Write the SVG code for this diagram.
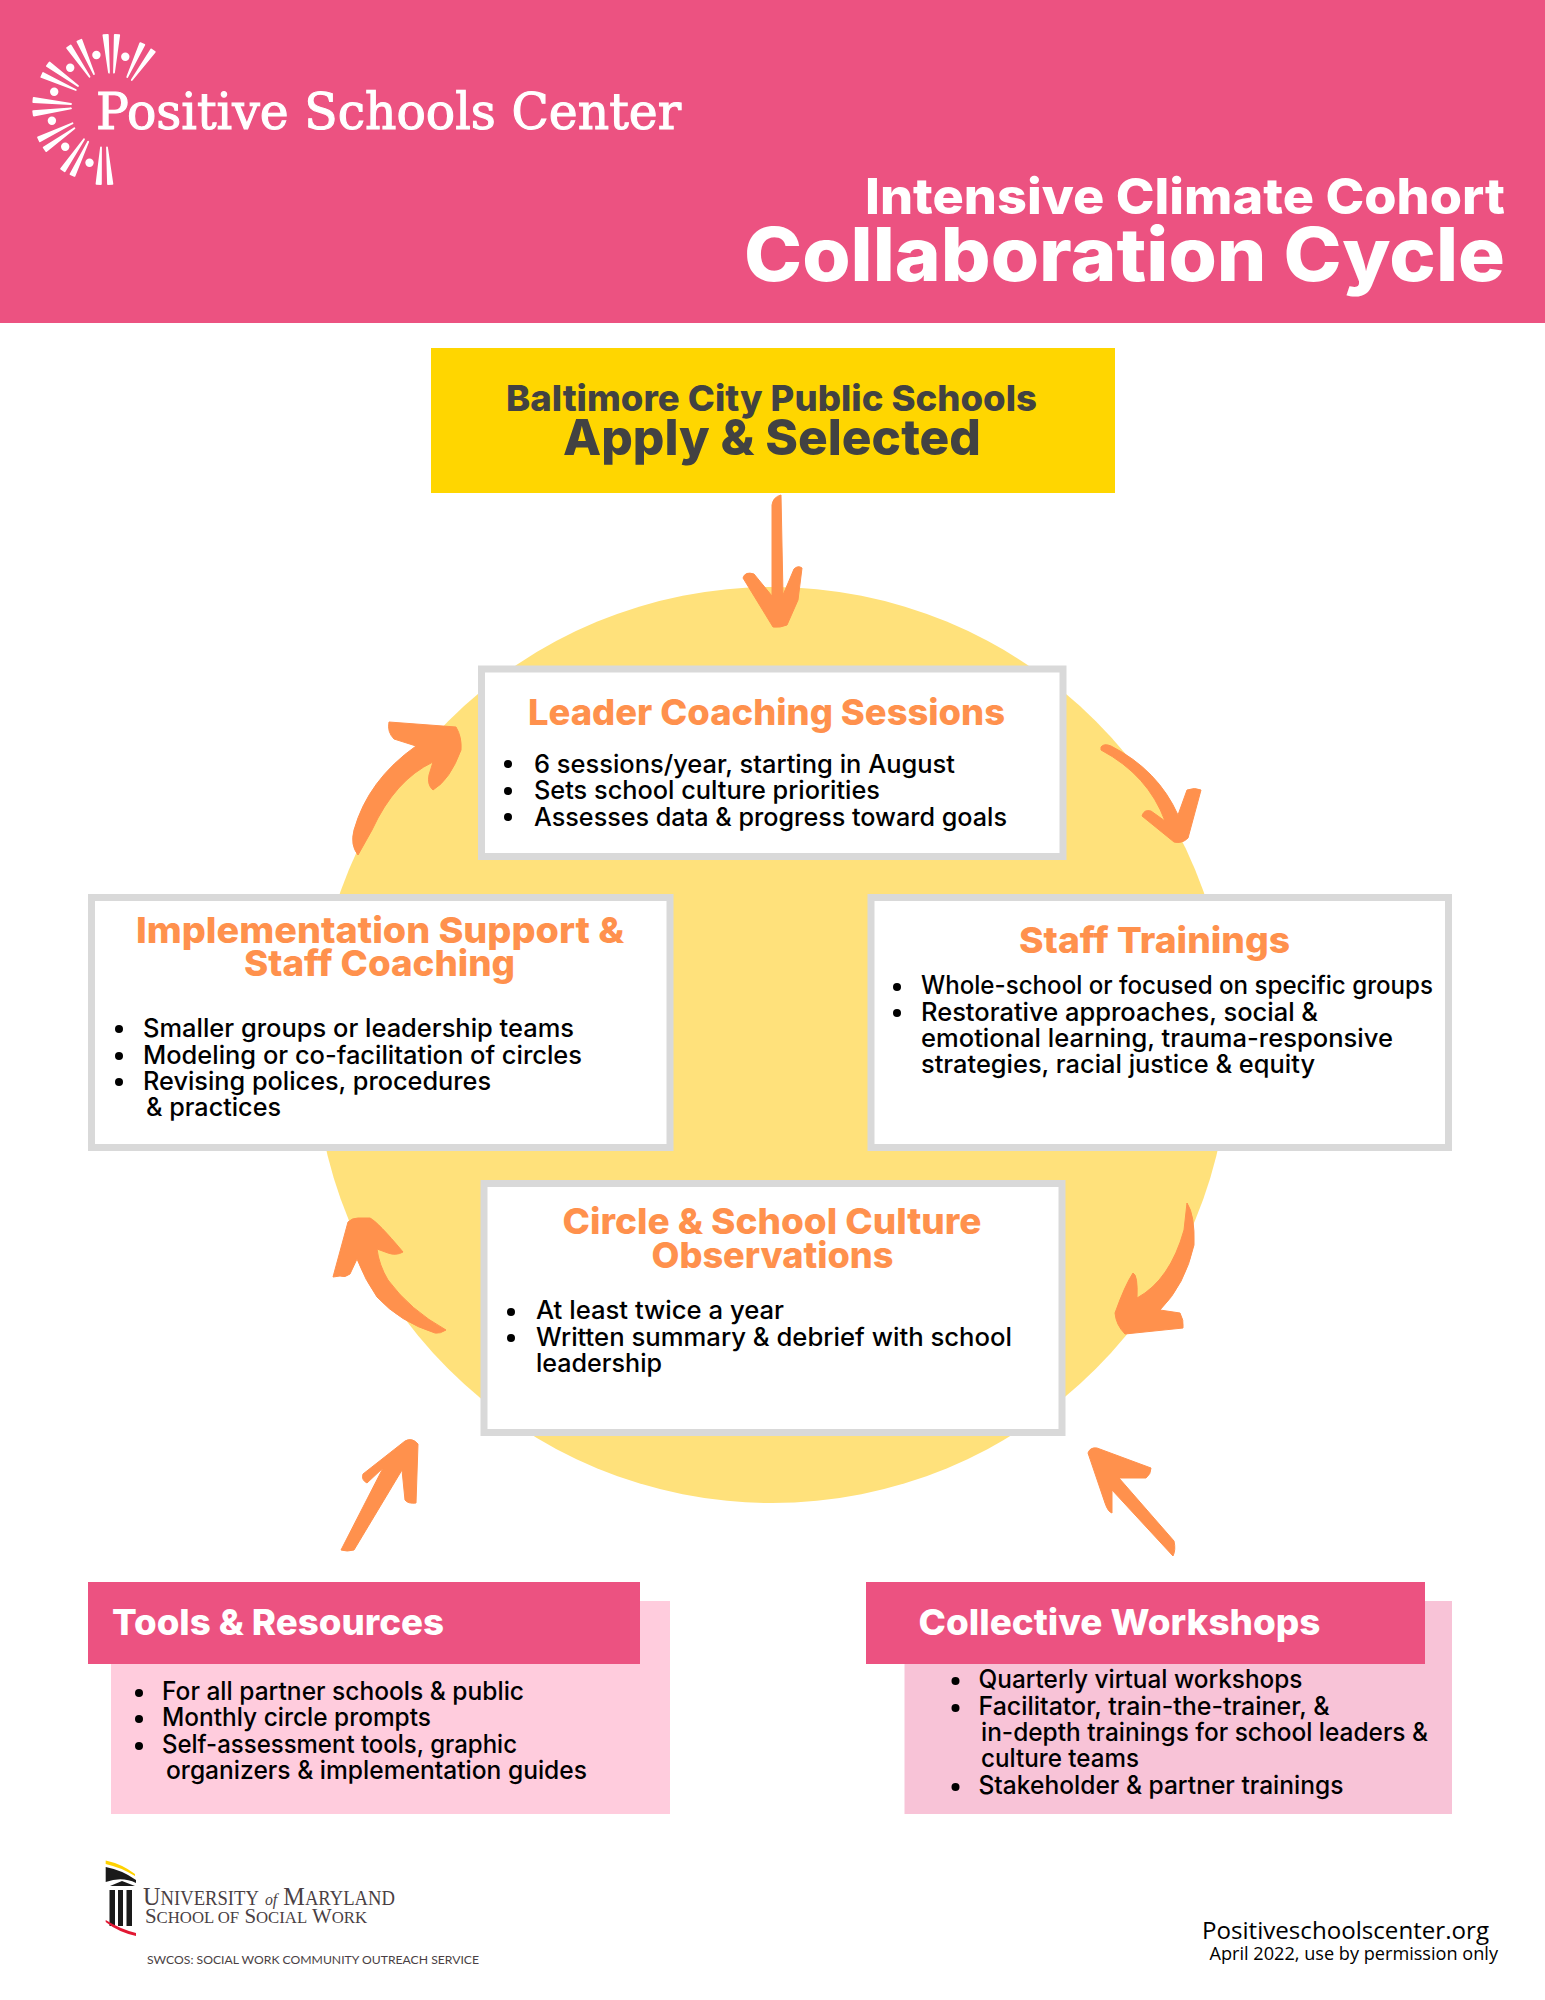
<svg xmlns="http://www.w3.org/2000/svg" width="1545" height="2000" viewBox="0 0 1545 2000">
<style>
.h{font-family:Inter,"Liberation Sans",sans-serif;font-weight:800}
.t{font-size:36px;fill:#FF914D}
.w{fill:#fff}
.d{fill:#424242}
.b{font-family:Inter,"Open Sans",sans-serif;font-weight:500;font-size:25px;fill:#000}
.box{fill:#fff;stroke:#D9D9D9;stroke-width:7}
.dot{fill:#000}
.f{font-family:"Open Sans","Noto Sans",sans-serif;fill:#000}
.ray{fill:#fff;stroke:#fff;stroke-width:1.8;stroke-linejoin:round}
.arrow{fill:#FF914D;stroke:#FF914D;stroke-width:1;stroke-linejoin:round}
.um{font-family:"Liberation Serif",serif;fill:#4A3F44}
</style>
<rect width="1545" height="2000" fill="#fff"/>
<g id="header">
<rect width="1545" height="323" fill="#EC5281"/>
<g id="logo">
<polygon class="ray" points="107.8,34.8 103.4,35.2 109,72.7"/>
<polygon class="ray" points="119.2,35.2 114.8,34.8 114,72.7"/>
<polygon class="ray" points="144.3,44.9 140.3,43.1 127.2,77"/>
<polygon class="ray" points="154.8,52 151.2,49.4 131.8,80"/>
<polygon class="ray" points="81.4,39.8 77.4,41.6 94,74"/>
<polygon class="ray" points="70.7,45.45 67.1,47.95 89.5,76.7"/>
<polygon class="ray" points="49.5,62.5 46.9,66.1 78,86"/>
<polygon class="ray" points="43.1,73 41.3,77 75.8,90"/>
<polygon class="ray" points="33.7,97.8 33.3,102.2 71,104"/>
<polygon class="ray" points="33.2,111.1 33.8,115.5 71,108.3"/>
<polygon class="ray" points="39.95,141.3 38.05,137.3 72.5,123.3"/>
<polygon class="ray" points="46.3,151.1 43.7,147.5 74.4,128.3"/>
<polygon class="ray" points="64.7,171.25 61.1,168.75 84,139.3"/>
<polygon class="ray" points="74.5,175.9 70.5,174.1 88.2,141.7"/>
<polygon class="ray" points="100.9,184.1 96.5,183.9 101,147.3"/>
<polygon class="ray" points="112.4,183.8 108,184.2 107,147.3"/>
<g fill="#fff"><circle cx="96.4" cy="55" r="4.2"/><circle cx="125.3" cy="56.7" r="4.2"/><circle cx="70.2" cy="67.7" r="4.2"/><circle cx="54.2" cy="91.7" r="4.2"/><circle cx="51.9" cy="120.7" r="4.2"/><circle cx="65.2" cy="146.7" r="4.2"/><circle cx="89.5" cy="162.7" r="4.2"/></g>
<text x="96" y="129" font-family="'DejaVu Serif',serif" font-size="50" fill="#fff" stroke="#fff" stroke-width="1.1" textLength="585" lengthAdjust="spacingAndGlyphs">Positive Schools Center</text>
</g>
<text class="h w" x="865" y="214" font-size="50" textLength="640" lengthAdjust="spacingAndGlyphs">Intensive Climate Cohort</text>
<text class="h w" x="744" y="281" font-size="74" textLength="761" lengthAdjust="spacingAndGlyphs">Collaboration Cycle</text>
</g>
<circle id="cycle-circle" cx="772" cy="1045" r="458" fill="#FFE17B"/>
<g id="connectors">
<path class="arrow" d="M772 505Q773 497 781 495L783 595L794 569Q798 565 802 568L798 600L787 625Q780 628 773 627L743 578Q745 571 754 574L772 596Z"/>
<path class="arrow" d="M1101 747Q1104 743 1111 746Q1158 770 1178 815L1187 790Q1195 787 1201 790L1188 838Q1182 844 1174 842L1142 816Q1144 809 1151 811L1165 821Q1148 775 1101 750Z"/>
<path class="arrow" d="M358 855Q350 845 354 830Q368 780 416 746L394 739Q387 732 389 722L456 727Q462 737 461 750Q450 780 433 790Q427 785 429 775L433 762Q395 780 372 830Z"/>
<path class="arrow" d="M1187 1203Q1195 1215 1194 1245Q1185 1285 1160 1310L1180 1313Q1184 1320 1183 1328L1125 1334Q1116 1325 1115 1313Q1125 1285 1133 1273Q1138 1275 1137 1298Q1170 1280 1184 1230Z"/>
<path class="arrow" d="M446 1330Q440 1334 435 1333Q400 1322 377 1297Q365 1280 357 1259L350 1274Q345 1278 340 1276L333 1277L348 1222Q352 1218 358 1218L370 1218Q378 1222 403 1252Q396 1256 388 1253L377 1249Q379 1265 388 1280Q410 1310 446 1330Z"/>
<path class="arrow" d="M341 1550L383 1468L367 1483Q361 1480 363 1474L405 1441Q412 1437 418 1444L416 1503Q408 1504 405 1500L402 1470L354 1550Q347 1552 341 1550Z"/>
<path class="arrow" d="M1173 1556Q1176 1550 1174 1541L1119 1478L1146 1478Q1151 1474 1151 1468L1097 1448Q1090 1447 1088 1453L1105 1503Q1108 1512 1112 1513L1112 1490Z"/>
</g>
<g id="apply">
<rect x="431" y="348" width="684" height="145" fill="#FFD600"/>
<text class="h d" x="506" y="411" font-size="36" textLength="531" lengthAdjust="spacingAndGlyphs">Baltimore City Public Schools</text>
<text class="h d" x="563" y="455" font-size="50" textLength="418" lengthAdjust="spacingAndGlyphs">Apply &amp; Selected</text>
</g>
<g id="leader">
<rect class="box" x="481.5" y="669" width="581.5" height="187.5"/>
<text class="h t" x="528" y="725" textLength="477" lengthAdjust="spacingAndGlyphs">Leader Coaching Sessions</text>
<circle class="dot" cx="508" cy="764" r="4"/><circle class="dot" cx="508" cy="791" r="4"/><circle class="dot" cx="508" cy="817" r="4"/>
<text class="b" x="534" y="773" textLength="421" lengthAdjust="spacingAndGlyphs">6 sessions/year, starting in August</text>
<text class="b" x="534" y="799" textLength="346" lengthAdjust="spacingAndGlyphs">Sets school culture priorities</text>
<text class="b" x="534" y="826" textLength="473" lengthAdjust="spacingAndGlyphs">Assesses data &amp; progress toward goals</text>
</g>
<g id="implementation">
<rect class="box" x="91.5" y="897.5" width="578.5" height="250"/>
<text class="h t" x="136" y="943" textLength="488" lengthAdjust="spacingAndGlyphs">Implementation Support &amp;</text>
<text class="h t" x="244" y="976" textLength="271" lengthAdjust="spacingAndGlyphs">Staff Coaching</text>
<circle class="dot" cx="119" cy="1029" r="4"/><circle class="dot" cx="119" cy="1056" r="4"/><circle class="dot" cx="119" cy="1082" r="4"/>
<text class="b" x="143" y="1037" textLength="431" lengthAdjust="spacingAndGlyphs">Smaller groups or leadership teams</text>
<text class="b" x="143" y="1064" textLength="439" lengthAdjust="spacingAndGlyphs">Modeling or co-facilitation of circles</text>
<text class="b" x="143" y="1090" textLength="348" lengthAdjust="spacingAndGlyphs">Revising polices, procedures</text>
<text class="b" x="146" y="1116" textLength="135" lengthAdjust="spacingAndGlyphs">&amp; practices</text>
</g>
<g id="staff">
<rect class="box" x="871" y="897.5" width="577.5" height="250"/>
<text class="h t" x="1019" y="953" textLength="271" lengthAdjust="spacingAndGlyphs">Staff Trainings</text>
<circle class="dot" cx="897" cy="987" r="4"/><circle class="dot" cx="897" cy="1013" r="4"/>
<text class="b" x="921" y="994" textLength="512" lengthAdjust="spacingAndGlyphs">Whole-school or focused on specific groups</text>
<text class="b" x="921" y="1021" textLength="397" lengthAdjust="spacingAndGlyphs">Restorative approaches, social &amp;</text>
<text class="b" x="921" y="1047" textLength="472" lengthAdjust="spacingAndGlyphs">emotional learning, trauma-responsive</text>
<text class="b" x="921" y="1073" textLength="394" lengthAdjust="spacingAndGlyphs">strategies, racial justice &amp; equity</text>
</g>
<g id="observations">
<rect class="box" x="484" y="1183.5" width="578" height="249"/>
<text class="h t" x="562.5" y="1234" textLength="419" lengthAdjust="spacingAndGlyphs">Circle &amp; School Culture</text>
<text class="h t" x="651.5" y="1268" textLength="242" lengthAdjust="spacingAndGlyphs">Observations</text>
<circle class="dot" cx="511" cy="1312" r="4"/><circle class="dot" cx="511" cy="1338" r="4"/>
<text class="b" x="536" y="1319" textLength="248" lengthAdjust="spacingAndGlyphs">At least twice a year</text>
<text class="b" x="536" y="1346" textLength="476" lengthAdjust="spacingAndGlyphs">Written summary &amp; debrief with school</text>
<text class="b" x="536" y="1372" textLength="126" lengthAdjust="spacingAndGlyphs">leadership</text>
</g>
<g id="tools">
<rect x="111" y="1601" width="559" height="213" fill="#FFCCDD"/>
<rect x="88" y="1582" width="552" height="82" fill="#EC5281"/>
<text class="h w" x="112" y="1635" font-size="36" textLength="332" lengthAdjust="spacingAndGlyphs">Tools &amp; Resources</text>
<circle class="dot" cx="139" cy="1693" r="4"/><circle class="dot" cx="139" cy="1719" r="4"/><circle class="dot" cx="139" cy="1746" r="4"/>
<text class="b" x="162" y="1700" textLength="362" lengthAdjust="spacingAndGlyphs">For all partner schools &amp; public</text>
<text class="b" x="162" y="1726" textLength="269" lengthAdjust="spacingAndGlyphs">Monthly circle prompts</text>
<text class="b" x="162" y="1753" textLength="355" lengthAdjust="spacingAndGlyphs">Self-assessment tools, graphic</text>
<text class="b" x="166" y="1779" textLength="421" lengthAdjust="spacingAndGlyphs">organizers &amp; implementation guides</text>
</g>
<g id="workshops">
<rect x="904.5" y="1601" width="547.5" height="213" fill="#F8C3D7"/>
<rect x="866" y="1582" width="559" height="82" fill="#EC5281"/>
<text class="h w" x="918.5" y="1635" font-size="36" textLength="402" lengthAdjust="spacingAndGlyphs">Collective Workshops</text>
<circle class="dot" cx="955.5" cy="1681" r="4"/><circle class="dot" cx="955.5" cy="1708" r="4"/><circle class="dot" cx="955.5" cy="1787" r="4"/>
<text class="b" x="978.5" y="1688" textLength="324" lengthAdjust="spacingAndGlyphs">Quarterly virtual workshops</text>
<text class="b" x="978.5" y="1715" textLength="351" lengthAdjust="spacingAndGlyphs">Facilitator, train-the-trainer, &amp;</text>
<text class="b" x="981" y="1741" textLength="447" lengthAdjust="spacingAndGlyphs">in-depth trainings for school leaders &amp;</text>
<text class="b" x="981" y="1767" textLength="158" lengthAdjust="spacingAndGlyphs">culture teams</text>
<text class="b" x="978.5" y="1794" textLength="365" lengthAdjust="spacingAndGlyphs">Stakeholder &amp; partner trainings</text>
</g>
<g id="umd-logo">
<path d="M105.7 1860.5Q122 1864 135 1874L135 1876Q120 1867 105.7 1864Z" fill="#FFD200"/>
<path d="M105.7 1867Q122 1870 136 1880L136 1883Q122 1876 105.7 1882Z" fill="#1a1a1a"/>
<path d="M110 1886L122 1881L135 1886Z" fill="#1a1a1a"/>
<rect x="109.5" y="1890" width="5.5" height="36" fill="#1a1a1a"/><rect x="118" y="1890" width="5" height="36" fill="#1a1a1a"/><rect x="126.5" y="1890" width="5.5" height="36" fill="#1a1a1a"/>
<path d="M105.7 1920Q120 1929 136 1933L136 1936Q118 1932 105.7 1922Z" fill="#E21833"/>
<text class="um" x="143" y="1905" font-size="26" textLength="252" lengthAdjust="spacingAndGlyphs">U<tspan font-size="20">NIVERSITY</tspan> <tspan font-style="italic" font-size="17">of</tspan> M<tspan font-size="20">ARYLAND</tspan></text>
<text class="um" x="145" y="1923" font-size="20" textLength="222" lengthAdjust="spacingAndGlyphs">S<tspan font-size="16">CHOOL OF</tspan> S<tspan font-size="16">OCIAL</tspan> W<tspan font-size="16">ORK</tspan></text>
<text x="147" y="1964" font-family="Lato,'Liberation Sans',sans-serif" font-size="12" fill="#4A3F44" textLength="332" lengthAdjust="spacingAndGlyphs">SWCOS: SOCIAL WORK COMMUNITY OUTREACH SERVICE</text>
</g>
<g id="footer">
<text class="f" x="1202" y="1939" font-size="24" textLength="287" lengthAdjust="spacingAndGlyphs">Positiveschoolscenter.org</text>
<text class="f" x="1209.5" y="1960" font-size="18" textLength="288.5" lengthAdjust="spacingAndGlyphs">April 2022, use by permission only</text>
</g>
</svg>
